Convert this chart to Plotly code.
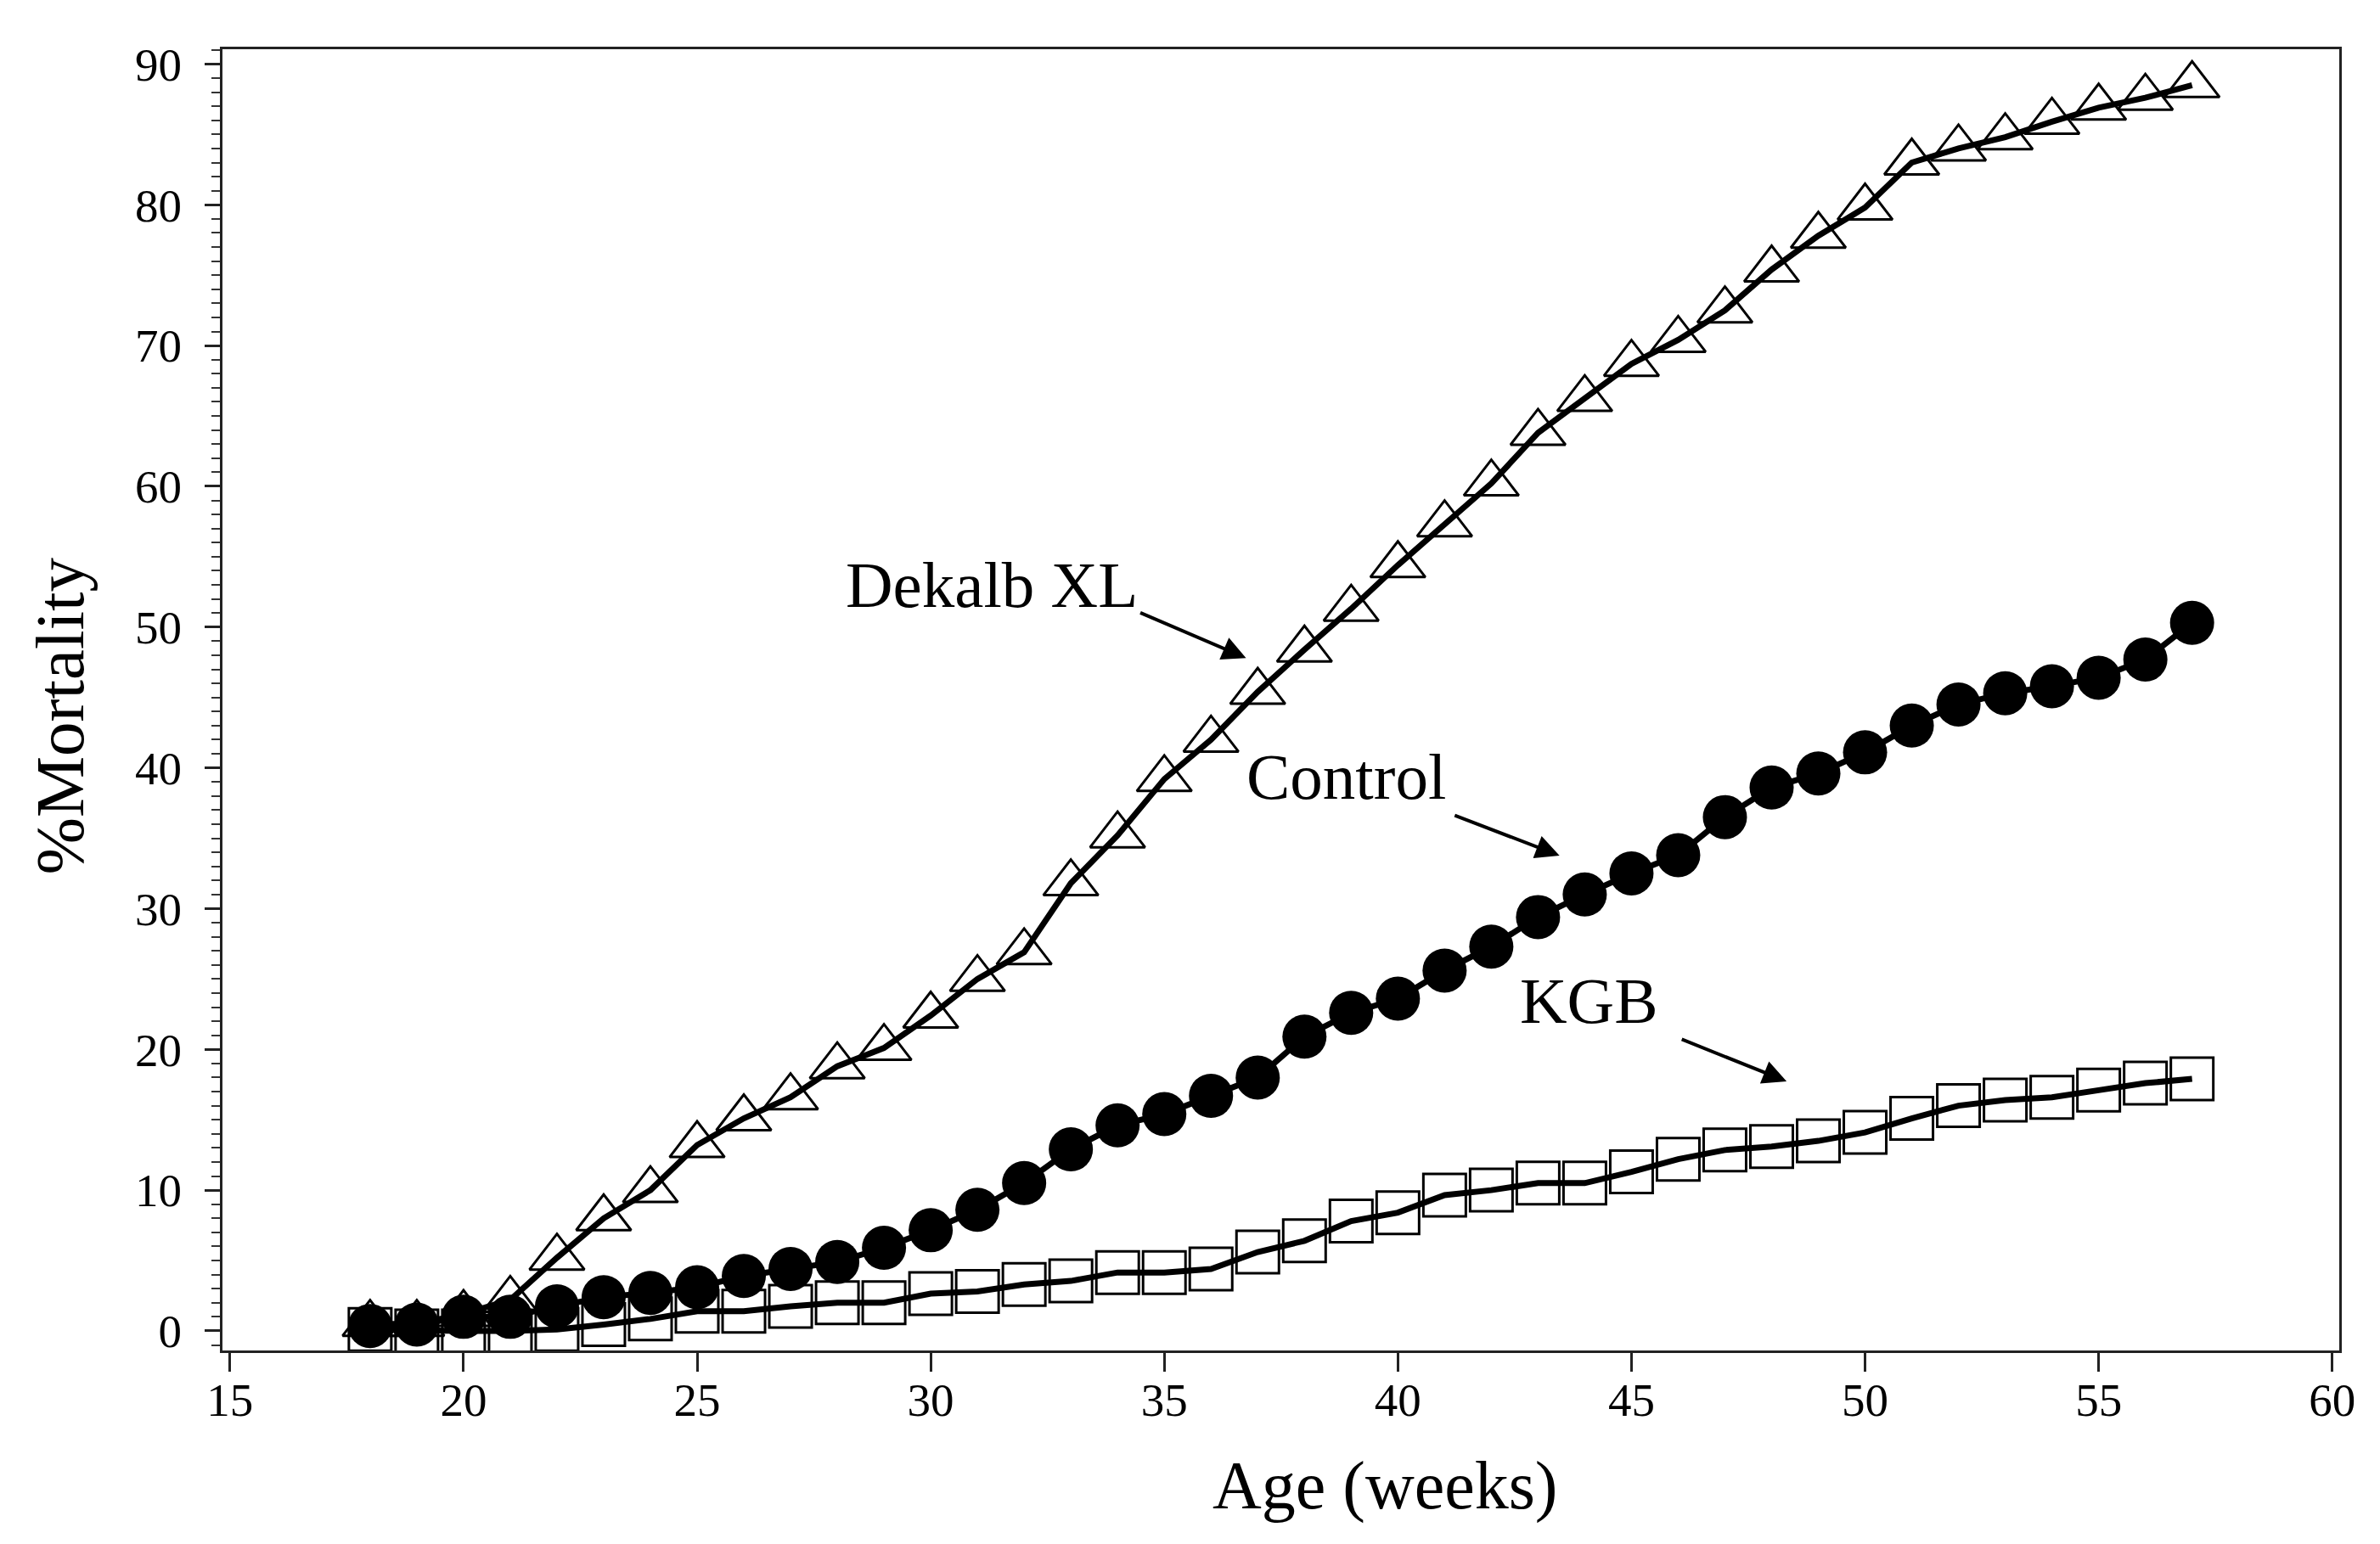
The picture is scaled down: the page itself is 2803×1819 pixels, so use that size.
import plotly.graph_objects as go

weeks = list(range(18, 58))

dekalb_xl = [0.5, 0.5, 1.2, 2.2, 5.2, 8.0, 10.0, 13.2, 15.1, 16.6,
             18.8, 20.1, 22.4, 25.0, 26.9, 31.8, 35.2, 39.2, 42.0, 45.4,
             48.4, 51.3, 54.4, 57.3, 60.2, 63.8, 66.2, 68.7, 70.4, 72.5,
             75.4, 77.8, 79.8, 83.0, 84.0, 84.8, 85.9, 86.9, 87.6, 88.5]

control = [0.35, 0.45, 1.0, 1.0, 1.75, 2.4, 2.7, 3.1, 3.9, 4.4,
           4.9, 5.9, 7.15, 8.6, 10.5, 12.9, 14.6, 15.4, 16.7, 18.0,
           20.9, 22.6, 23.6, 25.6, 27.3, 29.4, 31.0, 32.5, 33.8, 36.5,
           38.6, 39.6, 41.1, 43.0, 44.5, 45.3, 45.8, 46.4, 47.7, 50.3]

kgb = [0.1, 0.0, 0.0, 0.0, 0.1, 0.45, 0.85, 1.4, 1.4, 1.75,
       2.0, 2.0, 2.65, 2.8, 3.3, 3.55, 4.15, 4.15, 4.4, 5.6,
       6.4, 7.8, 8.4, 9.65, 10.0, 10.5, 10.5, 11.3, 12.2, 12.85,
       13.1, 13.5, 14.1, 15.1, 16.0, 16.4, 16.6, 17.1, 17.6, 17.9]

x_ticks = [15, 20, 25, 30, 35, 40, 45, 50, 55, 60]
y_ticks = [0, 10, 20, 30, 40, 50, 60, 70, 80, 90]

FONT = "Liberation Serif"

fig = go.Figure()

fig.add_trace(go.Scatter(
    x=weeks, y=dekalb_xl, mode="lines+markers", name="Dekalb XL",
    line=dict(color="black", width=7),
    marker=dict(symbol="triangle-up-open", size=56, color="black",
                line=dict(color="black", width=3)),
))
fig.add_trace(go.Scatter(
    x=weeks, y=kgb, mode="lines+markers", name="KGB",
    line=dict(color="black", width=7),
    marker=dict(symbol="square-open", size=50, color="black",
                line=dict(color="black", width=3)),
))
fig.add_trace(go.Scatter(
    x=weeks, y=control, mode="lines+markers", name="Control",
    line=dict(color="black", width=7),
    marker=dict(symbol="circle", size=52, color="black",
                line=dict(color="black", width=0)),
))

text_font = dict(family=FONT, size=77, color="black")

labels = [
    dict(text="Dekalb XL", x=31.3, y=53.0, tail=(34.46, 51.06), head=(36.75, 47.8)),
    dict(text="Control", x=38.9, y=39.4, tail=(41.19, 36.66), head=(43.46, 33.76)),
    dict(text="KGB", x=44.1, y=23.47, tail=(46.05, 20.75), head=(48.32, 17.73)),
]
annotations = []
for lb in labels:
    annotations.append(dict(
        text=lb["text"], x=lb["x"], y=lb["y"], xref="x", yref="y",
        showarrow=False, font=text_font, xanchor="center", yanchor="middle",
    ))
    annotations.append(dict(
        text="", x=lb["head"][0], y=lb["head"][1], xref="x", yref="y",
        ax=lb["tail"][0], ay=lb["tail"][1], axref="x", ayref="y",
        showarrow=True, arrowhead=2, arrowsize=1.4, arrowwidth=4,
        arrowcolor="black", standoff=0, startstandoff=0,
    ))

# axis titles (placed as in the reference, x title is right of centre)
annotations.append(dict(
    text="Age (weeks)", x=0.549, y=-0.104, xref="paper", yref="paper",
    showarrow=False, xanchor="center", yanchor="middle",
    font=dict(family=FONT, size=80, color="black"),
))
annotations.append(dict(
    text="%Mortality", x=-0.077, y=0.4876, xref="paper", yref="paper",
    showarrow=False, xanchor="center", yanchor="middle", textangle=-90,
    font=dict(family=FONT, size=81, color="black"),
))

fig.update_layout(
    width=2803, height=1819,
    margin=dict(l=254, r=56, t=50, b=236),
    paper_bgcolor="white", plot_bgcolor="white",
    showlegend=False,
    font=dict(family=FONT, color="black"),
    annotations=annotations,
)

fig.update_xaxes(
    range=[14.84, 60.15], tickmode="array", tickvals=x_ticks,
    ticktext=[str(v) for v in x_ticks],
    ticks="outside", ticklen=22, tickwidth=2.5, tickcolor="#222",
    showline=True, linewidth=3, linecolor="#222", mirror=True,
    showgrid=False, zeroline=False,
    ticklabelstandoff=-14,
    tickfont=dict(family=FONT, size=55, color="black"),
)
fig.update_yaxes(
    range=[-1.39, 91.05], tickmode="array", tickvals=y_ticks,
    ticktext=[str(v) for v in y_ticks],
    ticks="outside", ticklen=18, tickwidth=2.5, tickcolor="#222",
    minor=dict(dtick=1, ticks="outside", ticklen=10, tickwidth=2, tickcolor="#333"),
    showline=True, linewidth=3, linecolor="#222", mirror=True,
    showgrid=False, zeroline=False,
    ticklabelstandoff=16,
    tickfont=dict(family=FONT, size=55, color="black"),
)

fig.write_html("out.html")
